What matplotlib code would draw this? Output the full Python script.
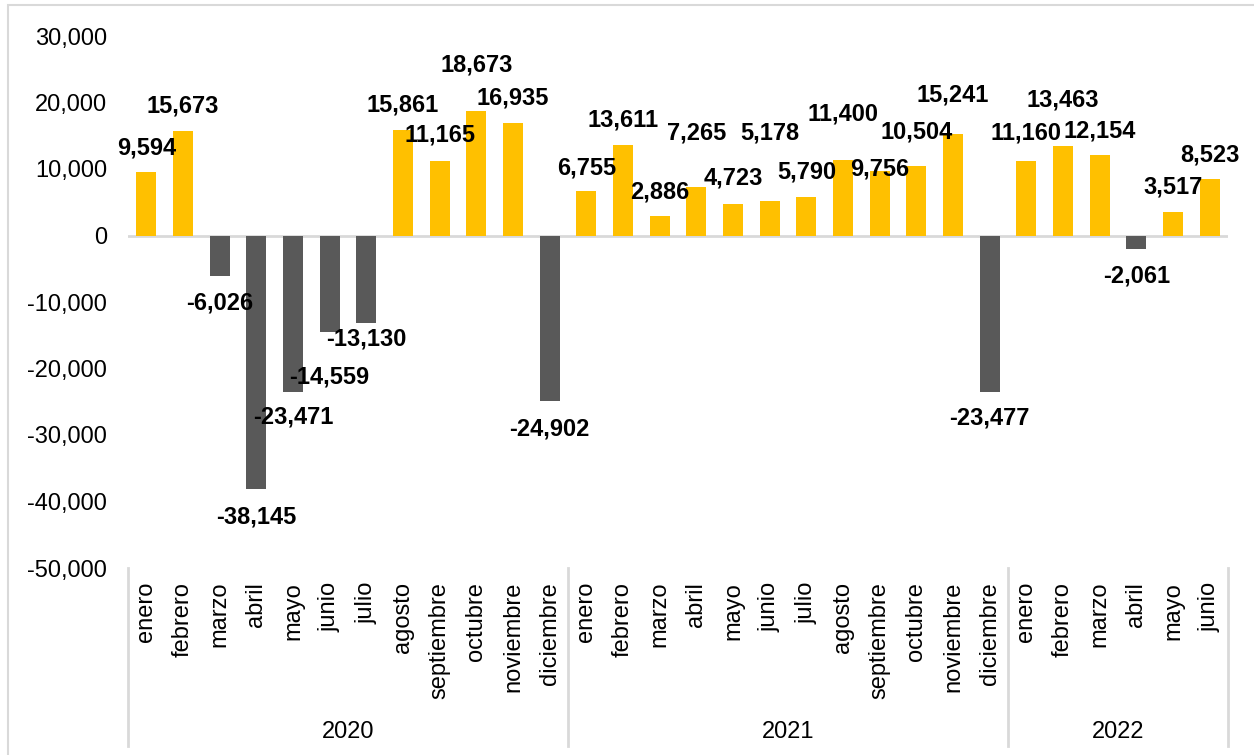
import matplotlib.pyplot as plt
from matplotlib.patches import Rectangle
from matplotlib.ticker import FuncFormatter

plt.rcParams['font.family'] = ['Liberation Sans', 'DejaVu Sans']

months = ['enero', 'febrero', 'marzo', 'abril', 'mayo', 'junio', 'julio', 'agosto',
          'septiembre', 'octubre', 'noviembre', 'diciembre']
years = ['2020', '2021', '2022']
year_counts = [12, 12, 6]

values_2020 = [9594, 15673, -6026, -38145, -23471, -14559, -13130, 15861,
               11165, 18673, 16935, -24902]
values_2021 = [6755, 13611, 2886, 7265, 4723, 5178, 5790, 11400,
               9756, 10504, 15241, -23477]
values_2022 = [11160, 13463, 12154, -2061, 3517, 8523]

# label shift from the bar end, in pixels (positive = up), as placed in the original
label_shift = [24, 25, -27, -28, -25, -45, -16, 25, 26, 46, 25, -28,
               23, 25, 24, 54, 26, 68, 25, 46, 2, 34, 39, -26,
               28, 46, 24, -27, 25, 24]

values = values_2020 + values_2021 + values_2022
labels = []
for n in year_counts:
    labels += months[:n]
x = list(range(len(values)))
colors = ['#FFC000' if v >= 0 else '#595959' for v in values]

fig = plt.figure(figsize=(12.54, 7.55), dpi=100)
ax = fig.add_axes([128 / 1254, 1 - 568 / 755, 1100 / 1254, 532 / 755])

ax.bar(x, values, width=0.55, color=colors, zorder=2)
ax.axhline(0, color='#D9D9D9', linewidth=2, zorder=1)

for xi, v, dy in zip(x, values, label_shift):
    ax.annotate(f'{v:,}', (xi, v), xytext=(0, dy), textcoords='offset pixels',
                ha='center', va='center', fontsize=17, fontweight='bold', zorder=3)

ax.set_xlim(-0.5, len(values) - 0.5)
ax.set_ylim(-50000, 30000)
ax.set_yticks(range(-50000, 30001, 10000))
ax.yaxis.set_major_formatter(FuncFormatter(lambda v, p: f'{int(v):,}'))
ax.tick_params(axis='y', length=0, pad=15, labelsize=17)
ax.set_xticks(x)
ax.set_xticklabels(labels, rotation=90, va='top', ha='center')
ax.tick_params(axis='x', length=0, pad=10, labelsize=17)
for s in ax.spines.values():
    s.set_visible(False)

# multi-level category axis
trans = ax.get_xaxis_transform()
edges = [-0.5]
for n in year_counts:
    edges.append(edges[-1] + n)
for e in edges:
    ax.plot([e, e], [0, -0.335], transform=trans, color='#D9D9D9',
            linewidth=2, clip_on=False)
for yr, a, b in zip(years, edges[:-1], edges[1:]):
    ax.text((a + b) / 2, -0.308, yr, transform=trans, ha='center', va='center',
            fontsize=17)

fig.patches.append(Rectangle((8 / 1254, -0.1), 1.2, 1.1 - 5 / 755,
                             transform=fig.transFigure, fill=False,
                             edgecolor='#D9D9D9', linewidth=1.5))

fig.savefig('out.png', dpi=100)
